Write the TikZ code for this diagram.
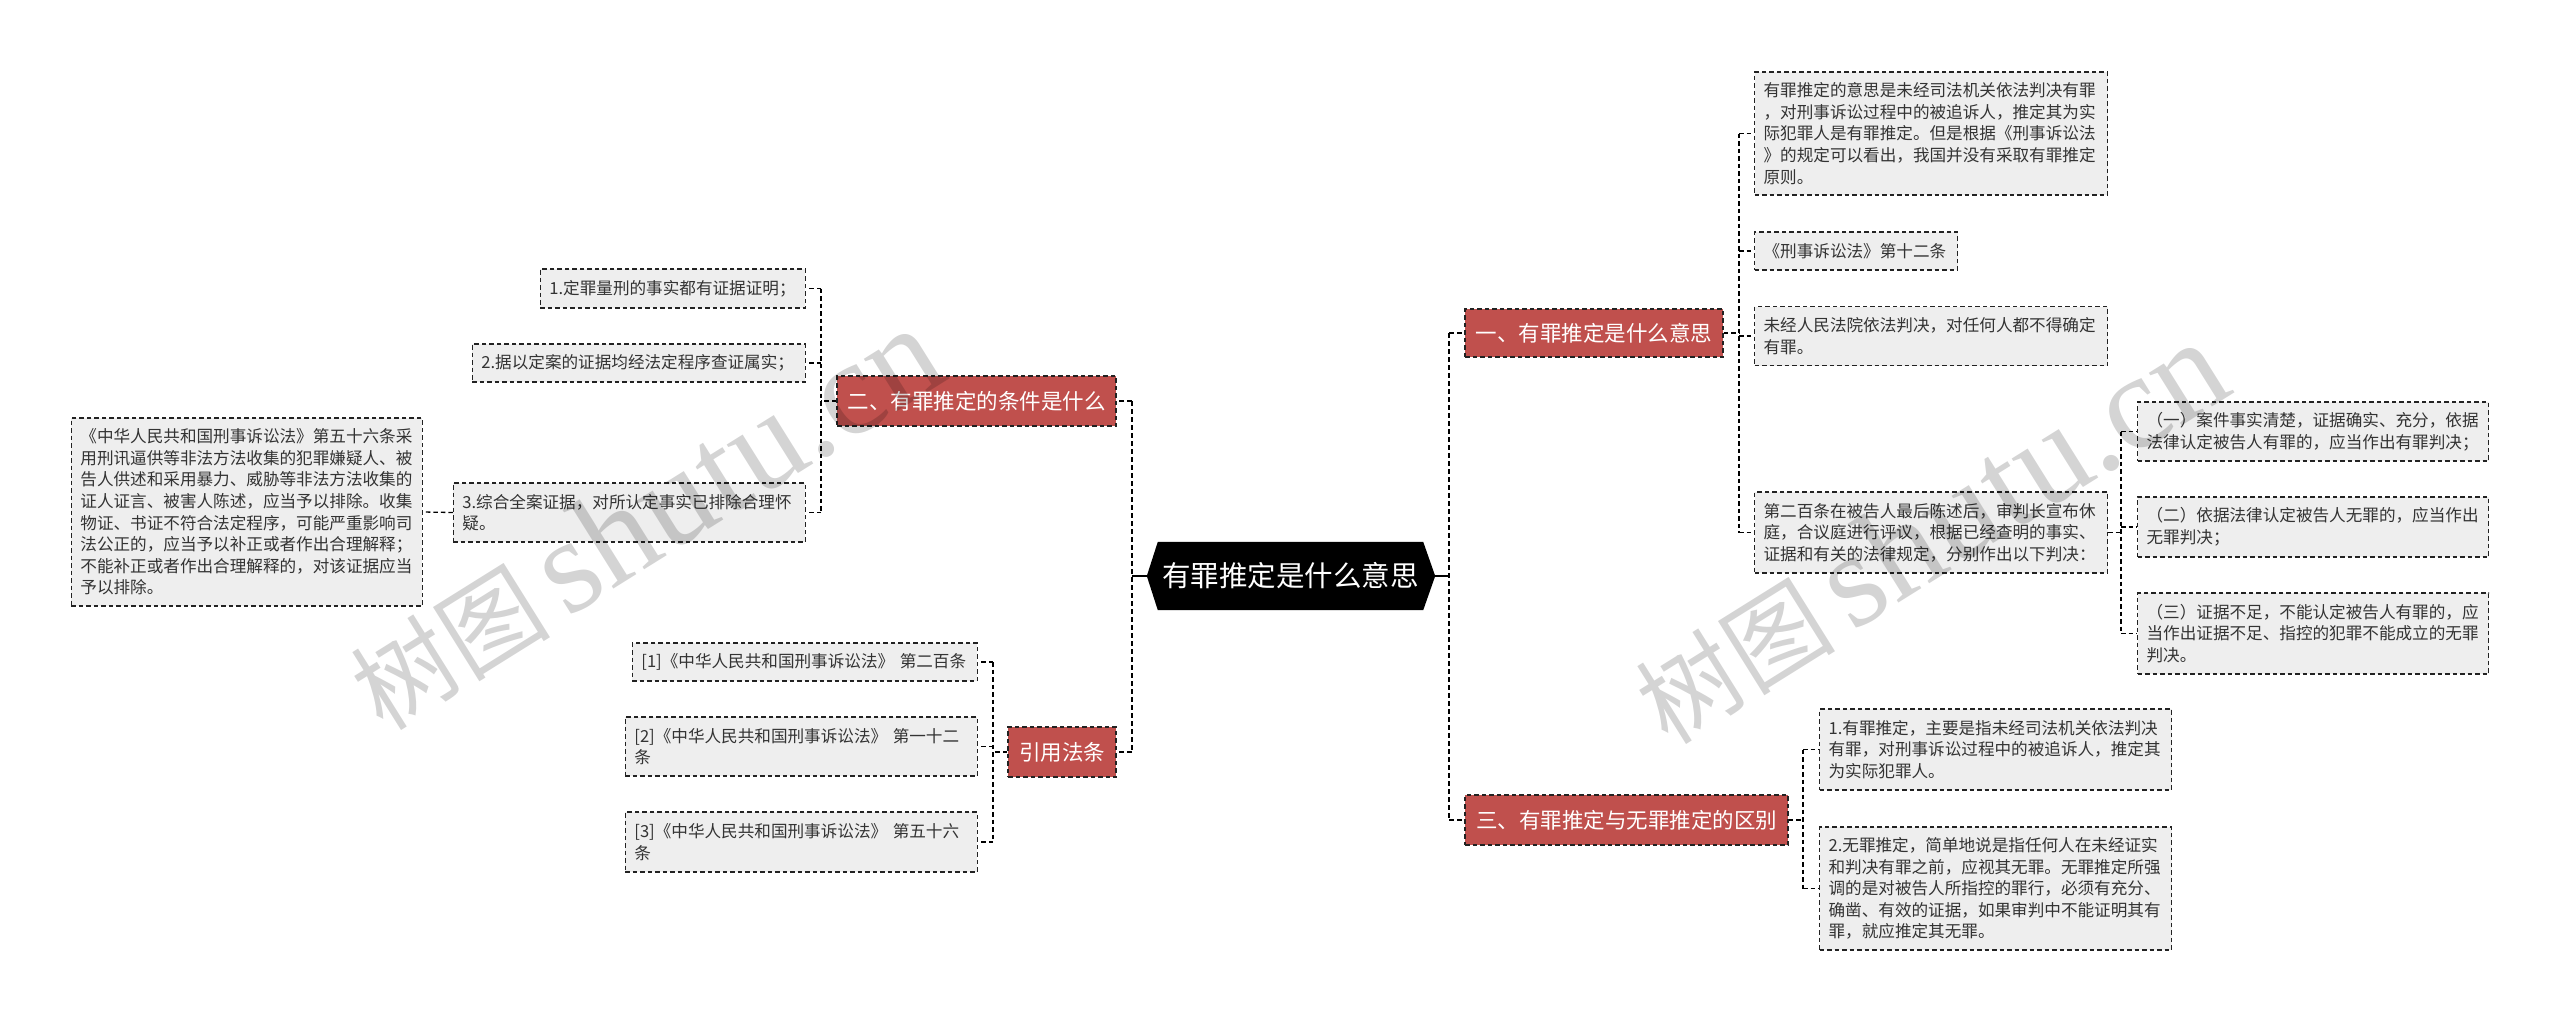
\documentclass[tikz,border=0pt]{standalone}
\usepackage{fontspec}
\setmainfont{Noto Sans CJK SC}
\newfontfamily\wmserif{Liberation Serif}
\usetikzlibrary{calc,backgrounds}
\definecolor{brred}{HTML}{C0504D}
\definecolor{leafbg}{HTML}{EEEEEE}
\definecolor{leaftx}{HTML}{333333}
\definecolor{dashc}{HTML}{222222}
\newcommand\lfont{\fontsize{16.6}{21.6}\selectfont}
\newcommand\bfont{\fontsize{21.5}{26}\selectfont}
\newcommand\rfont{\fontsize{28.5}{34}\selectfont}
\begin{document}
\begin{tikzpicture}[x=1pt,y=-1pt,
  leaf/.style={draw=dashc, line width=1.2pt, dash pattern=on 4.5pt off 3pt, fill=leafbg, text=leaftx, font=\lfont, align=left, inner xsep=9pt, inner ysep=4pt},
  branch/.style={draw=dashc, line width=1.2pt, dash pattern=on 4.5pt off 3pt, fill=brred, text=white, font=\bfont, inner sep=0pt},
  conn/.style={draw=black, line width=1.3pt, dash pattern=on 4.5pt off 3pt},
  mainconn/.style={draw=black, line width=2pt, dash pattern=on 5pt off 3pt},
  rootconn/.style={draw=black, line width=2pt},
  wm/.style={text=black, opacity=0.17, rotate=32, inner sep=0pt}
]
\useasboundingbox (0,0) rectangle (2560,1023);

% root
\node[font=\rfont, text=white, minimum width=265pt, minimum height=68pt, inner sep=0pt] (root) at (1290.5,576) {有罪推定是什么意思};
\coordinate (rootW) at ($(root.west)+(-11,0)$);
\coordinate (rootE) at ($(root.east)+(12,0)$);
\begin{scope}[on background layer]
  \fill[white] (0,0) rectangle (2560,1023);
  \fill[black] (root.north west) -- (root.north east) -- (rootE) -- (root.south east) -- (root.south west) -- (rootW) -- cycle;
\end{scope}

% branches
\node[branch, minimum width=258pt, minimum height=48pt] (b1) at (1594,333) {一、有罪推定是什么意思};
\node[branch, minimum width=323pt, minimum height=50pt] (b3) at (1626.5,820) {三、有罪推定与无罪推定的区别};
\node[branch, minimum width=279pt, minimum height=50pt] (b2) at (976.5,401) {二、有罪推定的条件是什么};
\node[branch, minimum width=108pt, minimum height=50pt] (b4) at (1062,752) {引用法条};

% right: branch 1 children
\node[leaf, anchor=west, text width=335pt, minimum height=123pt] (c1) at (1754,133.5) {有罪推定的意思是未经司法机关依法判决有罪\\，对刑事诉讼过程中的被追诉人，推定其为实\\际犯罪人是有罪推定。但是根据《刑事诉讼法\\》的规定可以看出，我国并没有采取有罪推定\\原则。};
\node[leaf, anchor=west, text width=185pt, minimum height=38pt] (c2) at (1754,251) {《刑事诉讼法》第十二条};
\node[leaf, anchor=west, text width=335pt, minimum height=59pt] (c3) at (1754,336) {未经人民法院依法判决，对任何人都不得确定\\有罪。};
\node[leaf, anchor=west, text width=335pt, minimum height=81pt] (c4) at (1754,532.5) {第二百条在被告人最后陈述后，审判长宣布休\\庭，合议庭进行评议，根据已经查明的事实、\\证据和有关的法律规定，分别作出以下判决：};

\node[leaf, anchor=west, text width=333pt, minimum height=59pt] (d1) at (2137,431.5) {（一）案件事实清楚，证据确实、充分，依据\\法律认定被告人有罪的，应当作出有罪判决；};
\node[leaf, anchor=west, text width=333pt, minimum height=60pt] (d2) at (2137,527) {（二）依据法律认定被告人无罪的，应当作出\\无罪判决；};
\node[leaf, anchor=west, text width=333pt, minimum height=81pt] (d3) at (2137,633.5) {（三）证据不足，不能认定被告人有罪的，应\\当作出证据不足、指控的犯罪不能成立的无罪\\判决。};

% right: branch 3 children
\node[leaf, anchor=west, text width=334pt, minimum height=81pt] (e1) at (1819,749.5) {1.有罪推定，主要是指未经司法机关依法判决\\有罪，对刑事诉讼过程中的被追诉人，推定其\\为实际犯罪人。};
\node[leaf, anchor=west, text width=334pt, minimum height=123pt] (e2) at (1819,888.5) {2.无罪推定，简单地说是指任何人在未经证实\\和判决有罪之前，应视其无罪。无罪推定所强\\调的是对被告人所指控的罪行，必须有充分、\\确凿、有效的证据，如果审判中不能证明其有\\罪，就应推定其无罪。};

% left: branch 2 children
\node[leaf, anchor=east, text width=247pt, minimum height=39pt] (L1) at (806,288.5) {1.定罪量刑的事实都有证据证明；};
\node[leaf, anchor=east, text width=315pt, minimum height=38pt] (L2) at (806,363) {2.据以定案的证据均经法定程序查证属实；};
\node[leaf, anchor=east, text width=334pt, minimum height=59pt] (L3) at (806,512.5) {3.综合全案证据，对所认定事实已排除合理怀\\疑。};
\node[leaf, anchor=east, text width=333pt, minimum height=188pt] (big) at (423,512) {《中华人民共和国刑事诉讼法》第五十六条采\\用刑讯逼供等非法方法收集的犯罪嫌疑人、被\\告人供述和采用暴力、威胁等非法方法收集的\\证人证言、被害人陈述，应当予以排除。收集\\物证、书证不符合法定程序，可能严重影响司\\法公正的，应当予以补正或者作出合理解释；\\不能补正或者作出合理解释的，对该证据应当\\予以排除。};

% left: branch 4 children
\node[leaf, anchor=east, text width=327pt, minimum height=38pt] (R1) at (978,662) {[1]《中华人民共和国刑事诉讼法》 第二百条};
\node[leaf, anchor=east, text width=334pt, minimum height=59pt] (R2) at (978,746.5) {[2]《中华人民共和国刑事诉讼法》 第一十二\\条};
\node[leaf, anchor=east, text width=334pt, minimum height=60pt] (R3) at (978,842) {[3]《中华人民共和国刑事诉讼法》 第五十六\\条};

% junctions
\coordinate (jR) at (1449,576);
\coordinate (jL) at (1132,576);
\coordinate (j1) at (1739,333);
\coordinate (j4) at (2121,532.5);
\coordinate (j3) at (1803,820);
\coordinate (j2) at (821,401);
\coordinate (j5) at (993,752);

% root connectors
\draw[rootconn] (rootE) -- (jR);
\draw[rootconn] (rootW) -- (jL);
\draw[mainconn] (jR |- b1.west) -- (jR |- b3.west);
\draw[mainconn] (jR |- b1.west) -- (b1.west);
\draw[mainconn] (jR |- b3.west) -- (b3.west);
\draw[mainconn] (jL |- b2.east) -- (jL |- b4.east);
\draw[mainconn] (jL |- b2.east) -- (b2.east);
\draw[mainconn] (jL |- b4.east) -- (b4.east);

% branch 1
\draw[conn] (b1.east) -- (j1);
\draw[conn] (j1 |- c1.west) -- (j1 |- c4.west);
\foreach \n in {c1,c2,c3,c4} \draw[conn] (j1 |- \n.west) -- (\n.west);
% c4
\draw[conn] (c4.east) -- (j4);
\draw[conn] (j4 |- d1.west) -- (j4 |- d3.west);
\foreach \n in {d1,d2,d3} \draw[conn] (j4 |- \n.west) -- (\n.west);
% branch 3
\draw[conn] (b3.east) -- (j3);
\draw[conn] (j3 |- e1.west) -- (j3 |- e2.west);
\foreach \n in {e1,e2} \draw[conn] (j3 |- \n.west) -- (\n.west);
% branch 2
\draw[conn] (b2.west) -- (j2);
\draw[conn] (j2 |- L1.east) -- (j2 |- L3.east);
\foreach \n in {L1,L2,L3} \draw[conn] (j2 |- \n.east) -- (\n.east);
\draw[conn] (L3.west) -- (big.east);
% branch 4
\draw[conn] (b4.west) -- (j5);
\draw[conn] (j5 |- R1.east) -- (j5 |- R3.east);
\foreach \n in {R1,R2,R3} \draw[conn] (j5 |- \n.east) -- (\n.east);

% watermarks
\node[wm] (wm1) at (645,519) {\fontsize{100}{100}\selectfont 树图\,{\wmserif\fontsize{135}{135}\selectfont shutu.cn}};
\node[wm] (wm2) at (1930,533) {\fontsize{100}{100}\selectfont 树图\,{\wmserif\fontsize{135}{135}\selectfont shutu.cn}};
\end{tikzpicture}
\end{document}
